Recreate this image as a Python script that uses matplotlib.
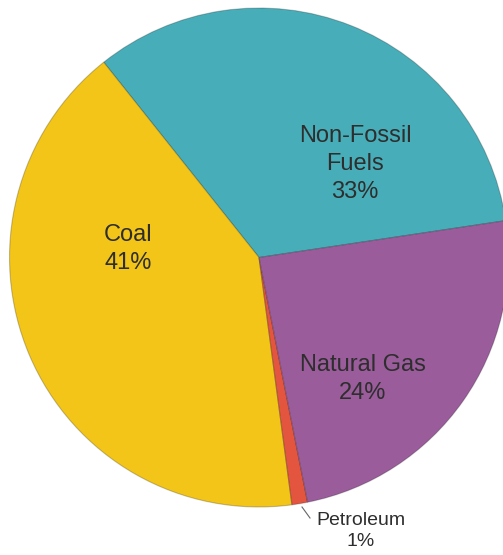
import matplotlib.pyplot as plt

plt.rcParams['font.family'] = ['Liberation Sans', 'DejaVu Sans']

# energy sources, percent share
labels = ["Non-Fossil\nFuels", "Coal", "Petroleum", "Natural Gas"]
shares = [33, 41, 1, 24]
colors = ["#47aeb9", "#f2c518", "#e3553f", "#9a5c9b"]

W, H = 503, 555
CX, CY, R = 259, 257.5, 249.5   # pie centre / radius in pixels


def px(x, y):
    # pixel position -> data coords of the pie (radius 1)
    return (x - CX) / R, (CY - y) / R


fig = plt.figure(figsize=(W / 100, H / 100), dpi=100)
ax = fig.add_axes([0, 0, 1, 1])

wedges, _ = ax.pie(shares, colors=colors, startangle=8.5, counterclock=True,
                   radius=1, center=(0, 0),
                   wedgeprops=dict(edgecolor=(0, 0, 0, 0.22), linewidth=0.8))

# label positions (pixels) for each slice
lab_pos = [(355, 164), (128, 249), (361, 531), (363, 379)]
lab_size = [17, 17, 14, 17]
for lab, v, (x, y), fs in zip(labels, shares, lab_pos, lab_size):
    ax.text(*px(x, y), f"{lab}\n{v}%", ha="center", va="center",
            fontsize=fs, color="#2e2e2e", linespacing=1.34)

# leader line for the tiny petroleum slice
x0, y0 = px(302, 507)
x1, y1 = px(310, 518)
ax.plot([x0, x1], [y0, y1], color="#666666", lw=0.8)

ax.set_xlim(-CX / R, (W - CX) / R)
ax.set_ylim(-(H - CY) / R, CY / R)
ax.set_aspect("equal")
ax.axis("off")

fig.savefig("out.png", dpi=100, facecolor="white")
